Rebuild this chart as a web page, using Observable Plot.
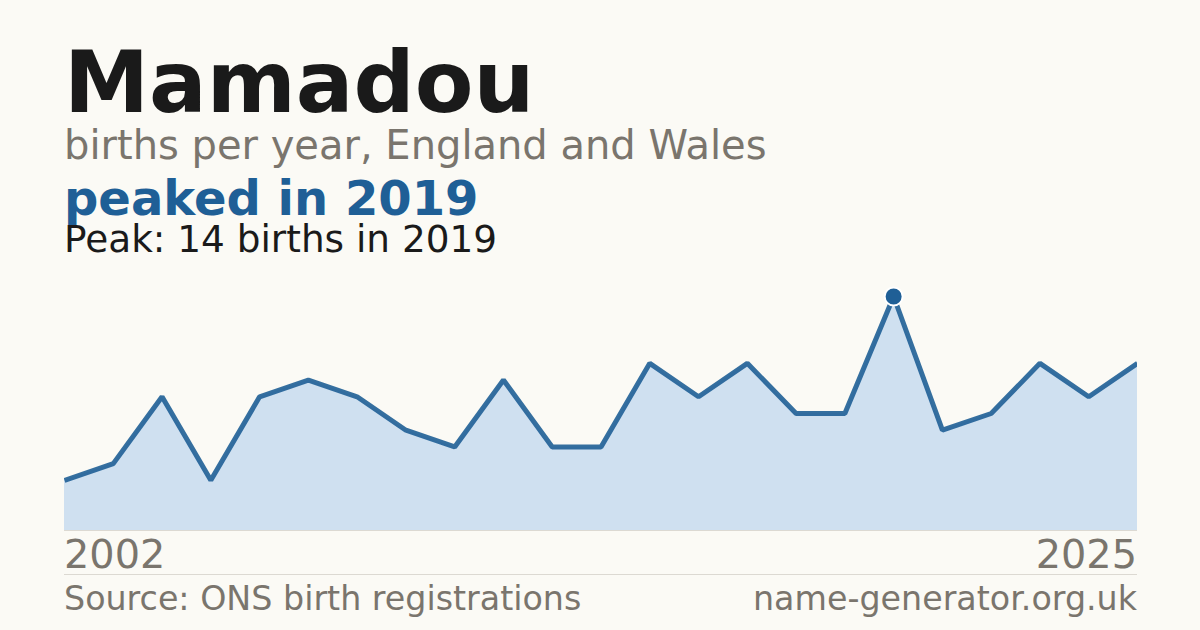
<!DOCTYPE html>
<html>
<head>
<meta charset="utf-8">
<script src="https://cdn.jsdelivr.net/npm/d3@7"></script>
<script src="https://cdn.jsdelivr.net/npm/@observablehq/plot@0.6"></script>
<style>
  html, body { margin: 0; padding: 0; background: #fbfaf5; }
  body { width: 1200px; height: 630px; position: relative; overflow: hidden; font-family: "DejaVu Sans", sans-serif; }
  .t { position: absolute; left: 64px; line-height: 0.8; white-space: nowrap; }
  #title { top: 49px; font-size: 85.5px; font-weight: bold; color: #1a1a1a; }
  #sub { top: 129px; font-size: 40px; color: #7a756d; }
  #trend { top: 179px; font-size: 48px; font-weight: bold; color: #1f5f96; }
  #peak { top: 225px; font-size: 37.4px; color: #1a1a1a; }
  #chart { position: absolute; left: 64px; top: 280px; }
  #chart svg { overflow: hidden; display: block; }
  #years { position: absolute; left: 64px; top: 537px; width: 1073px; display: flex; justify-content: space-between; font-size: 39.8px; color: #7a756d; line-height: 0.9; }
  #sep { position: absolute; left: 64px; top: 574px; width: 1073px; height: 1px; background: #dcd9d2; }
  #foot { position: absolute; left: 64px; top: 582px; width: 1073px; display: flex; justify-content: space-between; font-size: 33.3px; color: #7a756d; line-height: 1; }
</style>
</head>
<body>
<div class="t" id="title">Mamadou</div>
<div class="t" id="sub">births per year, England and Wales</div>
<div class="t" id="trend">peaked in 2019</div>
<div class="t" id="peak">Peak: 14 births in 2019</div>
<div id="chart"></div>
<div id="years"></div>
<div id="sep"></div>
<div id="foot"><span>Source: ONS birth registrations</span><span>name-generator.org.uk</span></div>
<script>
const years = [2002, 2003, 2004, 2005, 2006, 2007, 2008, 2009, 2010, 2011, 2012, 2013, 2014, 2015, 2016, 2017, 2018, 2019, 2020, 2021, 2022, 2023, 2024];
const births = [3, 4, 8, 3, 8, 9, 8, 6, 5, 9, 5, 5, 10, 8, 10, 7, 7, 14, 6, 7, 10, 8, 10];
const tickLabels = ["2002", "2025"];

const data = years.map((year, i) => ({year, births: births[i]}));

const chart = Plot.plot({
  width: 1073,
  height: 252,
  marginTop: 16,
  marginBottom: 2,
  marginLeft: 0,
  marginRight: 0,
  x: {domain: [years[0], years[years.length - 1]], axis: null},
  y: {domain: [0, 14], axis: null},
  style: {background: "transparent"},
  marks: [
    Plot.areaY(data, {x: "year", y: "births", fill: "#cfe0f0"}),
    Plot.ruleY([0], {stroke: "#dcd9d2", strokeWidth: 1}),
    Plot.lineY(data, {x: "year", y: "births", stroke: "#1f5f96", strokeWidth: 5, strokeOpacity: 0.9, strokeLinecap: "butt", strokeLinejoin: "miter"}),
    Plot.dot(data, Plot.selectMaxY({x: "year", y: "births", r: 9, fill: "#1f5f96", stroke: "#ffffff", strokeWidth: 2}))
  ]
});
document.getElementById("chart").appendChild(chart);

const yearsDiv = document.getElementById("years");
tickLabels.forEach(t => { const s = document.createElement("span"); s.textContent = t; yearsDiv.appendChild(s); });
</script>
</body>
</html>
